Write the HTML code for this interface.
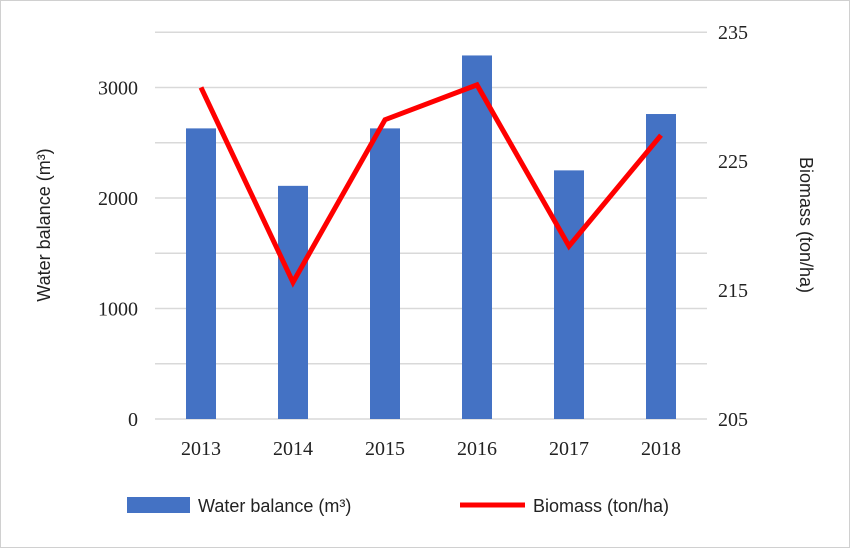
<!DOCTYPE html>
<html><head><meta charset="utf-8"><style>
body{margin:0;background:#fff;}
svg{display:block;}
.tk{font-family:"Liberation Serif",serif;font-size:20px;fill:#222;}
.lg{font-family:"Liberation Sans",sans-serif;font-size:18px;fill:#222;}
</style></head><body>
<svg width="850" height="548" viewBox="0 0 850 548">
<rect x="0.5" y="0.5" width="849" height="547" fill="#fff" stroke="#d0d0d0"/>
<g id="grid"></g><g id="bars"></g><g id="line"></g><g id="axes"></g>
<text class="lg" transform="translate(50,225) rotate(-90)" text-anchor="middle">Water balance (m³)</text>
<text class="lg" transform="translate(800,225) rotate(90)" text-anchor="middle">Biomass (ton/ha)</text>
<rect x="127" y="497" width="63" height="16" fill="#4472C4"/>
<text class="lg" x="198" y="512">Water balance (m³)</text>
<line x1="460" y1="505" x2="525" y2="505" stroke="#FF0000" stroke-width="5"/>
<text class="lg" x="533" y="512">Biomass (ton/ha)</text>
</svg>
<script>
const categories=["2013","2014","2015","2016","2017","2018"];
const waterBalance=[2630,2110,2630,3290,2250,2760];
const biomass=[230.7,215.6,228.2,230.9,218.4,227.0];
const leftTicks=[0,1000,2000,3000];
const gridValues=[0,500,1000,1500,2000,2500,3000,3500];
const rightTicks=[205,215,225,235];
const NS="http://www.w3.org/2000/svg";
const x0=155,x1=707,yB=419;
const yL=v=>yB-v*0.1105;
const yR=v=>yB-(v-205)*12.9;
const step=(x1-x0)/categories.length;
const xC=i=>x0+step*(i+0.5);
function mk(tag,attrs,parent,txt){const e=document.createElementNS(NS,tag);for(const k in attrs)e.setAttribute(k,attrs[k]);if(txt!==undefined)e.textContent=txt;document.getElementById(parent).appendChild(e);return e;}
gridValues.forEach(t=>{const g=mk('line',{x1:x0,x2:x1,y1:yL(t),y2:yL(t),stroke:'#d9d9d9','stroke-width':1.5},'grid');

});
rightTicks.forEach(t=>{const l=mk('text',{x:718,y:yR(t)+7,class:'tk'},'axes',String(t));

});
leftTicks.forEach(t=>{const l=mk('text',{x:138,y:yL(t)+7,class:'tk','text-anchor':'end'},'axes',String(t));

});
categories.forEach((c,i)=>{const b=mk('rect',{x:xC(i)-15,y:yL(waterBalance[i]),width:30,height:yB-yL(waterBalance[i]),fill:'#4472C4'},'bars');


const l=mk('text',{x:xC(i),y:455,class:'tk','text-anchor':'middle'},'axes',c);

});
const p=mk('polyline',{points:biomass.map((v,i)=>xC(i)+','+yR(v)).join(' '),fill:'none',stroke:'#FF0000','stroke-width':5,'stroke-linejoin':'miter'},'line');


</script>
</body></html>
